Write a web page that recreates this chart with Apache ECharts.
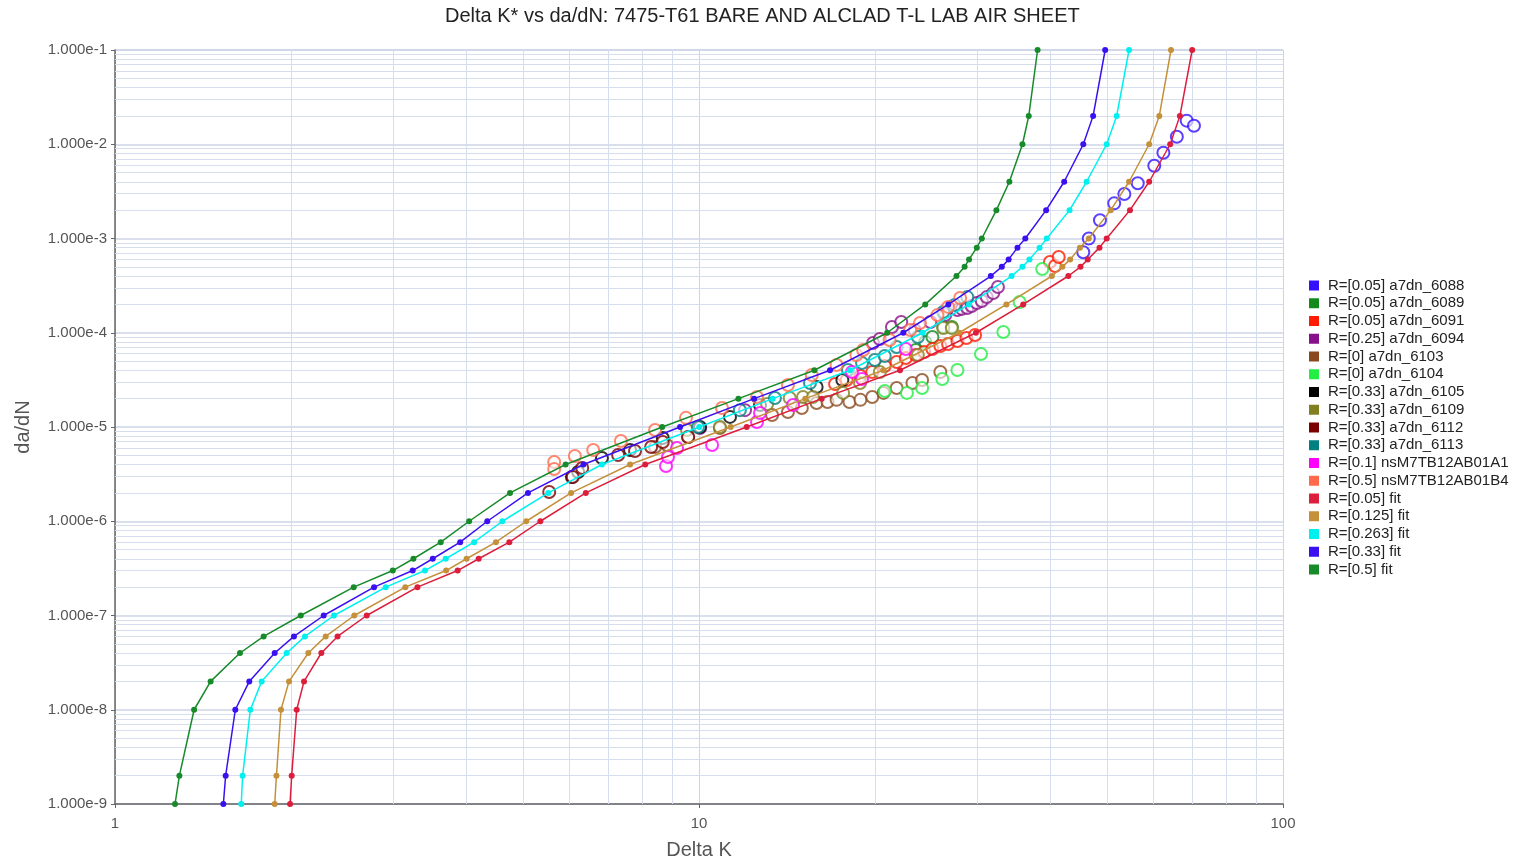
<!DOCTYPE html>
<html>
<head>
<meta charset="utf-8">
<script src="https://cdn.jsdelivr.net/npm/echarts@6/dist/echarts.min.js"></script>
<style>
html,body{margin:0;padding:0;background:#fff;overflow:hidden;}
#chart{width:1514px;height:861px;}
</style>
</head>
<body>
<div id="chart"></div>
<script>
// ---------- data (Delta K, da/dN) ----------
const fitY = [1e-9, 2e-9, 1e-8, 2e-8, 4e-8, 6e-8, 1e-7, 2e-7, 3e-7, 4e-7, 6e-7, 1e-6, 2e-6, 4e-6, 1e-5, 2e-5, 4e-5, 1e-4, 2e-4, 4e-4, 5e-4, 6e-4, 8e-4, 1e-3, 2e-3, 4e-3, 1e-2, 2e-2, 1e-1];
const fitK_005  = [1.994, 2.007, 2.047, 2.107, 2.256, 2.405, 2.698, 3.295, 3.862, 4.195, 4.734, 5.35, 6.40, 8.09, 12.07, 16.22, 22.09, 29.8, 35.9, 42.9, 45.0, 46.3, 48.5, 49.9, 54.7, 59.0, 64.1, 66.6, 69.9];
const fitK_0125 = [1.877, 1.89, 1.924, 1.986, 2.143, 2.295, 2.569, 3.141, 3.69, 4.0, 4.49, 5.06, 6.04, 7.62, 11.33, 15.2, 20.68, 27.9, 33.6, 40.2, 41.9, 43.2, 44.9, 46.5, 50.7, 54.5, 59.0, 61.4, 64.3];
const fitK_0263 = [1.645, 1.654, 1.705, 1.783, 1.968, 2.115, 2.371, 2.908, 3.395, 3.684, 4.12, 4.606, 5.52, 6.82, 10.01, 13.37, 18.14, 24.15, 29.0, 34.3, 35.8, 36.8, 38.3, 39.4, 43.1, 46.1, 49.9, 51.9, 54.5];
const fitK_033  = [1.533, 1.547, 1.607, 1.698, 1.877, 2.025, 2.277, 2.777, 3.234, 3.50, 3.90, 4.34, 5.095, 6.34, 9.28, 12.43, 16.76, 22.38, 26.73, 31.6, 33.0, 33.9, 35.1, 36.2, 39.3, 42.2, 45.5, 47.3, 49.6];
const fitK_05   = [1.267, 1.289, 1.366, 1.458, 1.637, 1.797, 2.08, 2.563, 2.99, 3.243, 3.612, 4.04, 4.747, 5.91, 8.65, 11.68, 15.76, 21.0, 24.4, 27.6, 28.5, 29.0, 29.9, 30.5, 32.3, 34.0, 35.8, 36.7, 38.0];

const d6088 = [[45.5,7.15e-4],[46.5,1.0e-3],[48.6,1.56e-3],[51.4,2.36e-3],[53.5,2.97e-3],[56.4,3.85e-3],[60.2,5.92e-3],[62.4,8.13e-3],[65.8,1.20e-2],[68.4,1.78e-2],[70.4,1.57e-2]];
const d6089 = [[23.5,6.56e-5],[24.4,7.98e-5],[25.1,9.01e-5],[26.2,1.15e-4],[27.1,1.15e-4]];
const d6091 = [[17.1,2.86e-5],[17.9,3.15e-5],[18.9,3.48e-5],[19.8,3.84e-5],[20.8,4.44e-5],[21.8,4.9e-5],[22.6,5.4e-5],[23.5,5.8e-5],[24.3,6.25e-5],[25.1,6.73e-5],[25.9,7.23e-5],[26.7,7.6e-5],[27.7,8.17e-5],[28.7,8.8e-5],[29.7,9.46e-5],[39.9,5.63e-4],[40.7,5.1e-4],[41.3,6.36e-4]];
const d6094 = [[10.04,9.76e-6],[11.99,1.51e-5],[19.86,7.78e-5],[20.4,8.59e-5],[21.4,1.15e-4],[22.2,1.30e-4],[23.4,1.07e-4],[24.9,1.30e-4],[26.4,1.54e-4],[27.7,1.74e-4],[28.2,1.79e-4],[28.8,1.83e-4],[29.3,1.92e-4],[29.9,2.07e-4],[30.5,2.17e-4],[31.1,2.39e-4],[31.9,2.64e-4],[32.5,3.06e-4]];
const d6103 = [[8.41,6.14e-6],[8.81,6.44e-6],[9.58,7.83e-6],[10.86,9.76e-6],[13.34,1.34e-5],[14.2,1.44e-5],[15.0,1.59e-5],[15.9,1.80e-5],[16.6,1.84e-5],[17.2,1.94e-5],[18.1,1.84e-5],[18.9,1.94e-5],[19.8,2.08e-5],[20.7,2.30e-5],[21.8,2.59e-5],[23.2,2.93e-5],[24.1,3.15e-5],[25.9,3.84e-5]];
const d6104 = [[20.8,2.41e-5],[22.7,2.30e-5],[24.1,2.59e-5],[26.1,3.23e-5],[27.7,4.03e-5],[30.4,5.95e-5],[33.2,1.02e-4],[35.4,2.12e-4],[38.7,4.75e-4]];
const d6105 = [[6.06,2.95e-6],[6.21,3.33e-6],[6.82,4.69e-6],[7.62,5.70e-6],[8.67,7.64e-6],[10.04,1.0e-5],[11.3,1.28e-5],[12.72,1.71e-5],[15.9,2.66e-5],[17.6,3.15e-5]];
const d6109 = [[9.54,9.29e-6],[10.86,1.0e-5],[13.08,1.75e-5],[14.3,2.03e-5],[15.07,2.08e-5],[15.67,2.08e-5],[17.65,2.30e-5],[18.87,2.93e-5],[20.4,3.84e-5],[23.7,5.80e-5],[26.2,1.12e-4],[27.1,1.12e-4]];
const d6112 = [[5.54,2.04e-6],[6.08,2.95e-6],[6.31,3.67e-6],[7.27,5.05e-6],[7.77,5.56e-6],[8.28,6.14e-6],[8.67,6.93e-6],[9.58,7.83e-6]];
const d6113 = [[9.96,1.0e-5],[11.75,1.51e-5],[13.49,2.03e-5],[15.49,2.93e-5],[17.99,4.03e-5],[19.02,4.78e-5],[20.0,5.14e-5],[20.8,5.66e-5],[21.8,7.06e-5],[23.7,9.01e-5],[26.2,1.66e-4],[27.4,1.97e-4],[28.8,2.39e-4]];
const dA1 = [[8.78,3.86e-6],[8.85,4.80e-6],[9.17,5.99e-6],[10.53,6.44e-6],[12.57,1.13e-5],[12.72,1.41e-5],[14.49,1.71e-5],[18.28,3.84e-5],[19.02,3.23e-5],[22.6,6.73e-5]];
const dB4 = [[5.65,4.25e-6],[5.65,3.58e-6],[6.13,4.92e-6],[6.59,5.70e-6],[7.35,7.1e-6],[8.41,9.29e-6],[9.5,1.25e-5],[10.95,1.59e-5],[12.57,2.08e-5],[14.2,2.79e-5],[15.6,3.56e-5],[17.2,4.55e-5],[18.6,5.8e-5],[19.1,6.56e-5],[21.2,8.38e-5],[23.0,1.07e-4],[23.9,1.27e-4],[25.6,1.54e-4],[26.7,1.88e-4],[28.0,2.34e-4]];

// axis structure
const xMin = 1, xMax = 100;
const yMin = 1e-9, yMax = 1e-1;
const xDecades = [1, 10];
const yDecades = [1e-9, 1e-8, 1e-7, 1e-6, 1e-5, 1e-4, 1e-3, 1e-2];
const minorMultiples = [2, 3, 4, 5, 6, 7, 8, 9];

// ---------- build ----------
const scatterDefs = [
  ['R=[0.05] a7dn_6088', d6088, '#3311ff'],
  ['R=[0.05] a7dn_6089', d6089, '#128a1e'],
  ['R=[0.05] a7dn_6091', d6091, '#ff1a00'],
  ['R=[0.25] a7dn_6094', d6094, '#88108a'],
  ['R=[0] a7dn_6103', d6103, '#8b4a1e'],
  ['R=[0] a7dn_6104', d6104, '#22ee44'],
  ['R=[0.33] a7dn_6105', d6105, '#000000'],
  ['R=[0.33] a7dn_6109', d6109, '#808020'],
  ['R=[0.33] a7dn_6112', d6112, '#7a0000'],
  ['R=[0.33] a7dn_6113', d6113, '#008080'],
  ['R=[0.1] nsM7TB12AB01A1', dA1, '#ff00ff'],
  ['R=[0.5] nsM7TB12AB01B4', dB4, '#ff6a4a']
];
const fitDefs = [
  ['R=[0.05] fit', fitK_005, '#dc1e3c'],
  ['R=[0.125] fit', fitK_0125, '#c4903a'],
  ['R=[0.263] fit', fitK_0263, '#00f0f0'],
  ['R=[0.33] fit', fitK_033, '#3a10f0'],
  ['R=[0.5] fit', fitK_05, '#178a2a']
];

const minorGrid = [];
xDecades.forEach(d => minorMultiples.forEach(m => minorGrid.push({coords: [[d * m, yMin], [d * m, yMax]]})));
yDecades.forEach(d => minorMultiples.forEach(m => minorGrid.push({coords: [[xMin, d * m], [xMax, d * m]]})));

const series = [];
series.push({
  name: '__grid', type: 'lines', coordinateSystem: 'cartesian2d', polyline: false,
  silent: true, z: 1, animation: false,
  lineStyle: {color: '#d6dded', width: 1, opacity: 1},
  data: minorGrid
});
scatterDefs.forEach(([name, data, color]) => {
  series.push({
    name, type: 'scatter', data, symbol: 'circle', symbolSize: 12,
    itemStyle: {color: 'rgba(255,255,255,0.75)', borderColor: color, borderWidth: 2},
    z: 3
  });
});
fitDefs.forEach(([name, ks, color]) => {
  series.push({
    name, type: 'line', data: ks.map((k, i) => [k, fitY[i]]),
    symbol: 'circle', symbolSize: 6, showSymbol: true,
    lineStyle: {color, width: 1.5},
    itemStyle: {color},
    z: 4
  });
});

const legendData = scatterDefs.concat(fitDefs).map(([name, , color]) => ({
  name, icon: 'rect',
  itemStyle: {color, opacity: 1, borderColor: color, borderWidth: 0}
}));

const FONT = 'Arial, "Liberation Sans", sans-serif';
const chart = echarts.init(document.getElementById('chart'));
chart.setOption({
  animation: false,
  backgroundColor: '#ffffff',
  textStyle: {fontFamily: FONT},
  title: {
    text: 'Delta K* vs da/dN: 7475-T61 BARE AND ALCLAD T-L LAB AIR SHEET',
    left: 440, top: 1,
    textStyle: {fontSize: 20, fontWeight: 'normal', color: '#222', fontFamily: FONT}
  },
  legend: {
    orient: 'vertical', left: 1304, top: 273,
    itemWidth: 10, itemHeight: 10, itemGap: 2.75,
    textStyle: {fontSize: 15, color: '#222', fontFamily: FONT, padding: [0, 0, 0, 4]},
    data: legendData
  },
  grid: {left: 115, right: 231, top: 50, bottom: 57, containLabel: false, outerBoundsMode: 'none'},
  xAxis: {
    type: 'log', logBase: 10, min: xMin, max: xMax,
    name: 'Delta K', nameLocation: 'middle', nameGap: 36,
    nameTextStyle: {fontSize: 20, color: '#555'},
    axisLine: {show: true, lineStyle: {color: '#666', width: 1.5}},
    axisTick: {show: true, length: 4, lineStyle: {color: '#666'}},
    axisLabel: {fontSize: 15, color: '#555', margin: 12},
    splitLine: {show: true, lineStyle: {color: '#ccd5e6', width: 1}}
  },
  yAxis: {
    type: 'log', logBase: 10, min: yMin, max: yMax, interval: 1,
    name: 'da/dN', nameLocation: 'middle', nameGap: 82,
    nameTextStyle: {fontSize: 20, color: '#555'},
    axisLine: {show: true, lineStyle: {color: '#666', width: 1.5}},
    axisTick: {show: true, length: 4, lineStyle: {color: '#666'}},
    axisLabel: {fontSize: 15, color: '#555', margin: 8,
      formatter: v => Number(v).toExponential(3)},
    splitLine: {show: true, lineStyle: {color: '#ccd5e6', width: 1.5}}
  },
  series
});
</script>
</body>
</html>
